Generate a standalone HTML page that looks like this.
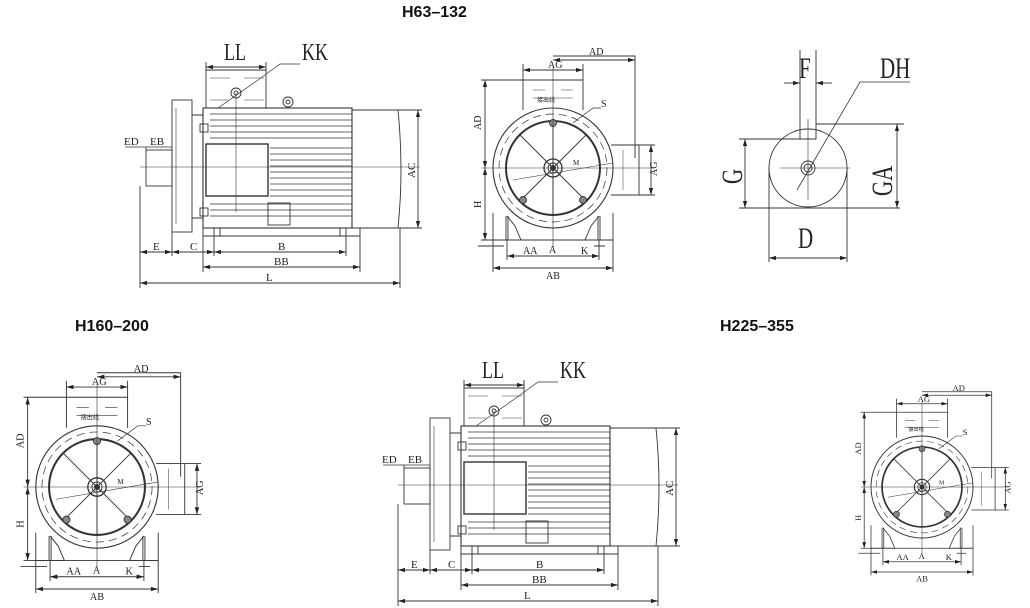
<!DOCTYPE html>
<html><head><meta charset="utf-8"><style>
html,body{margin:0;padding:0;background:#fff;width:1030px;height:608px;overflow:hidden}
svg{display:block}
.t{font-family:"Liberation Serif",serif;fill:#222}
.h{font-family:"Liberation Sans",sans-serif;font-weight:bold;font-size:16px;fill:#111}
</style></head><body>
<svg width="1030" height="608" viewBox="0 0 1030 608" xmlns="http://www.w3.org/2000/svg">
<defs>
<marker id="a" viewBox="0 0 10 6" refX="10" refY="3" markerWidth="8" markerHeight="5" orient="auto-start-reverse"><path d="M0,0L10,3L0,6z" fill="#222"/></marker>
<g id="endv" stroke="#333" fill="none" stroke-width="0.9">
  <circle r="60" stroke-width="1.1"/>
  <circle r="54" stroke-dasharray="8 5" stroke-width="0.7"/>
  <circle r="47" stroke-width="2"/>
  <circle r="9" stroke-width="1.3"/><circle r="5"/><circle r="2.5" fill="#333"/>
  <path d="M-33,-33L33,33M33,-33L-33,33M0,-47V47"/>
  <circle cx="0" cy="-45" r="3.5" fill="#888"/><circle cx="-30" cy="32" r="3.5" fill="#888"/><circle cx="30" cy="32" r="3.5" fill="#888"/>
  <path d="M-72,0H100M0,-100V80" stroke-width="0.6"/>
  <path d="M-30,-58V-88H30V-58" /><path d="M-20,-78H-8M8,-78H20M-20,-70H20" stroke-width="0.6"/>
  <text x="-16" y="-66" class="t" font-size="6" stroke="none">接出线</text>
  <path d="M58,-23H86V27H58"/><path d="M70,-18V22" stroke-width="0.5"/>
  <path d="M-60,45V72H-32L-38,58L-46,48M60,45V72H32L38,58L46,48"/>
  <path d="M-47,48V72M-45,48V72M45,48V72M47,48V72"/>
  <path d="M-60,72H60"/>
  <path d="M-46,88H46" marker-start="url(#a)" marker-end="url(#a)"/>
  <path d="M-60,100H60" marker-start="url(#a)" marker-end="url(#a)"/>
  <path d="M-46,72V92M46,72V92M-60,72V104M60,72V104"/>
  <path d="M-75,78H-49M41,78H52" />
  <path d="M-30,-88V-104M30,-88V-104"/><path d="M-30,-98H30" marker-start="url(#a)" marker-end="url(#a)"/>
  <path d="M0,-112H82V-10"/><path d="M0,-108H82" marker-start="url(#a)" marker-end="url(#a)"/>
  <path d="M-72,-88H-30M-72,72H-60"/><path d="M-68,-88V0" marker-start="url(#a)" marker-end="url(#a)"/><path d="M-68,0V72" marker-start="url(#a)" marker-end="url(#a)"/>
  <path d="M86,-23H102M86,27H102"/><path d="M98,-23V27" marker-start="url(#a)" marker-end="url(#a)"/>
  <path d="M20,-45L40,-60H48" stroke-width="0.7"/>
  <path d="M-40,12L60,-5" stroke-width="0.6"/>
  <g class="t" stroke="none" font-size="10">
    <text x="-5" y="-100">AG</text><text x="36" y="-113">AD</text>
    <text x="48" y="-61">S</text><text x="20" y="-3" font-size="7">M</text>
    <text x="-30" y="86">AA</text><text x="28" y="86">K</text>
    <text x="-4" y="85">A</text><text x="-7" y="111">AB</text>
    <text transform="translate(-72,-38) rotate(-90)">AD</text>
    <text transform="translate(-72,40) rotate(-90)">H</text>
    <text transform="translate(104,8) rotate(-90)">AG</text>
  </g>
</g>
<g id="side" stroke="#333" fill="none" stroke-width="0.9">
  <rect x="172" y="100" width="20" height="132"/>
  <path d="M176,108V224" stroke-width="0.6"/>
  <path d="M192,115H203M192,218H203"/>
  <rect x="203" y="108" width="149" height="120" stroke-width="1.1"/>
  <path d="M210,114H352M210,120H352M210,126H352M210,132H352M210,138H352M270,148H352M270,154H352M270,160H352M270,166H352M270,172H352M270,178H352M270,184H352M270,190H352M270,196H352M210,204H352M210,210H352M210,216H352" stroke-width="0.7"/>
  <rect x="206" y="144" width="62" height="52" stroke-width="1.4"/>
  <rect x="268" y="203" width="22" height="22"/>
  <path d="M352,110H398Q404,169 398,228H352"/>
  <path d="M203,228H360V236H203Z"/>
  <path d="M214,236V228M220,236V228M340,236V228M346,236V228"/>
  <path d="M206,108V70H266V108" /><path d="M210,78H230M244,78H264M210,100H228M244,100H264" stroke-width="0.6"/>
  <circle cx="236" cy="93" r="5"/><circle cx="236" cy="93" r="2"/>
  <circle cx="288" cy="102" r="5"/><circle cx="288" cy="102" r="2"/>
  <rect x="200" y="124" width="8" height="8"/><rect x="200" y="208" width="8" height="8"/>
  <rect x="146" y="150" width="26" height="36"/>
  <path d="M140,167H420" stroke-width="0.6"/>
  <path d="M236,93V212" stroke-width="0.6"/>
  <path d="M206,70V62M266,70V62"/><path d="M206,67H266" marker-start="url(#a)" marker-end="url(#a)"/>
  <path d="M218,108L258,80L280,64H300" stroke-width="0.7"/>
  <path d="M398,110H422M398,228H422"/><path d="M418,110V228" marker-start="url(#a)" marker-end="url(#a)"/>
  <path d="M140,186V288M172,232V256M203,236V272M214,236V256M346,236V256M360,236V272M400,228V288"/>
  <path d="M140,252H172" marker-start="url(#a)" marker-end="url(#a)"/>
  <path d="M172,252H214" marker-start="url(#a)" marker-end="url(#a)"/>
  <path d="M214,252H346" marker-start="url(#a)" marker-end="url(#a)"/>
  <path d="M203,267H360" marker-start="url(#a)" marker-end="url(#a)"/>
  <path d="M140,283H400" marker-start="url(#a)" marker-end="url(#a)"/>
  <path d="M125,147H146M146,147H172" stroke-width="0.7"/><path d="M146,147V152" />
  <g class="t" stroke="none">
    <text x="0" y="0" font-size="24" transform="translate(224,60) scale(0.75,1)">LL</text>
    <text x="0" y="0" font-size="24" transform="translate(302,60) scale(0.75,1)">KK</text>
    <text x="124" y="145" font-size="11">ED</text><text x="150" y="145" font-size="11">EB</text>
    <text x="153" y="250" font-size="11">E</text><text x="190" y="250" font-size="11">C</text>
    <text x="278" y="250" font-size="11">B</text><text x="274" y="265" font-size="11">BB</text>
    <text x="266" y="281" font-size="11">L</text>
    <text transform="translate(415,178) rotate(-90)" font-size="11">AC</text>
  </g>
</g>
</defs>

<text x="402" y="17" class="h">H63–132</text>
<text x="75" y="331" class="h">H160–200</text>
<text x="720" y="331" class="h">H225–355</text>

<use href="#side"/>
<use href="#side" transform="translate(258,318)"/>
<use href="#endv" transform="translate(553,168)"/>
<use href="#endv" transform="translate(97,487) scale(1.02)"/>
<use href="#endv" transform="translate(922,487) scale(0.85)"/>

<g stroke="#333" fill="none" stroke-width="0.9">
  <circle cx="808" cy="168" r="39"/>
  <path d="M800,124V139H816V124"/>
  <circle cx="808" cy="168" r="7"/><circle cx="808" cy="168" r="4"/>
  <path d="M800,50V124M816,50V124"/>
  <path d="M784,83H800" marker-end="url(#a)"/><path d="M832,83H816" marker-end="url(#a)"/>
  <path d="M780,168H850M808,119V200" stroke-width="0.6"/>
  <path d="M739,139H800M739,208H900M816,124H904"/>
  <path d="M745,139V208" marker-start="url(#a)" marker-end="url(#a)"/>
  <path d="M897,124V208" marker-start="url(#a)" marker-end="url(#a)"/>
  <path d="M769,168V262M847,168V262"/>
  <path d="M769,258H847" marker-start="url(#a)" marker-end="url(#a)"/>
  <path d="M910,82H860L797,190" stroke-width="0.8"/>
</g>
<g class="t">
  <text font-size="30" transform="translate(799,78) scale(0.7,1)">F</text>
  <text font-size="30" transform="translate(880,78) scale(0.7,1)">DH</text>
  <text font-size="30" transform="translate(798,248) scale(0.7,1)">D</text>
  <text font-size="30" transform="translate(742,184) rotate(-90) scale(0.7,1)">G</text>
  <text font-size="30" transform="translate(892,196) rotate(-90) scale(0.7,1)">GA</text>
</g>
</svg>
</body></html>
